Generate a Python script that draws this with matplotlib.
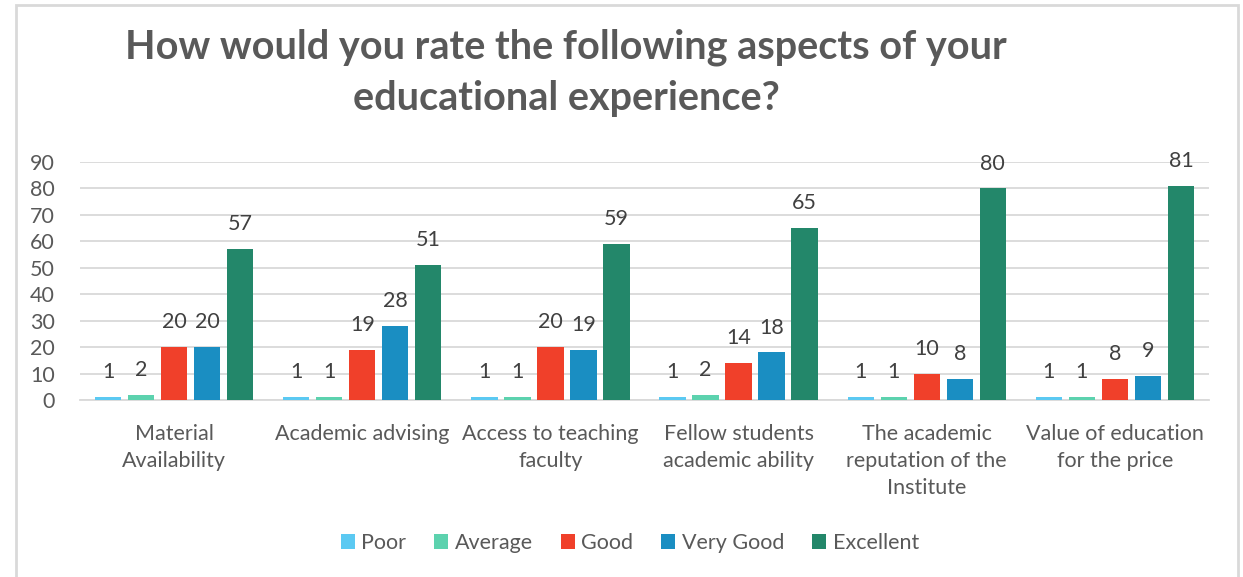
import matplotlib
matplotlib.use("Agg")
import matplotlib.pyplot as plt
import numpy as np
from matplotlib.patches import Rectangle

categories = ["Material\nAvailability", "Academic advising", "Access to teaching\nfaculty",
              "Fellow students\nacademic ability", "The academic\nreputation of the\nInstitute",
              "Value of education\nfor the price"]
series_names = ["Poor", "Average", "Good", "Very Good", "Excellent"]
poor = [1, 1, 1, 1, 1, 1]
average = [2, 1, 1, 2, 1, 1]
good = [20, 19, 20, 14, 10, 8]
very_good = [20, 28, 19, 18, 8, 9]
excellent = [57, 51, 59, 65, 80, 81]
colors = ["#5BC9F2", "#5CD2AE", "#F0402A", "#1A8EC2", "#23876A"]

plt.rcParams['font.family'] = ['Lato', 'DejaVu Sans']
W, H = 1243, 577
fig = plt.figure(figsize=(W/100, H/100), dpi=100)
ax = fig.add_axes([80/W, 1-400/H, (1209-80)/W, (400-162)/H])

data = [poor, average, good, very_good, excellent]
x = np.arange(len(categories))
step = 0.1755
width = 0.14
for i, (vals, name, c) in enumerate(zip(data, series_names, colors)):
    pos = x + (i-2)*step
    bars = ax.bar(pos, vals, width, color=c, label=name, zorder=3)
    for b, v in zip(bars, vals):
        ax.text(b.get_x()+b.get_width()/2, v + 9.4, str(v), ha='center', va='center',
                fontsize=15.5, color='#404040', zorder=4)

ax.set_xlim(-0.5, len(categories)-0.5)
ax.set_ylim(0, 90)
ax.set_yticks(range(0, 91, 10))
ax.yaxis.grid(True, color='#D9D9D9', linewidth=1.3, zorder=0)
ax.set_axisbelow(True)
for s in ['top', 'right', 'left']:
    ax.spines[s].set_visible(False)
ax.spines['bottom'].set_color('#D9D9D9')
ax.spines['bottom'].set_linewidth(1.3)
ax.tick_params(axis='both', length=0, labelsize=15.5, labelcolor='#595959')
ax.tick_params(axis='y', pad=18)
ax.set_xticks(x)
ax.set_xticklabels(categories, linespacing=1.45)
ax.tick_params(axis='x', pad=17)

fig.text(566/W, 1-73/H, "How would you rate the following aspects of your\neducational experience?",
         ha='center', va='center', fontsize=28.5, fontweight='bold', color='#595959',
         linespacing=1.45)

fig.legend(loc='center', bbox_to_anchor=(630/W, 1-543/H), ncol=5, frameon=False,
           fontsize=15.5, handlelength=0.65, handleheight=0.65, handletextpad=0.3,
           columnspacing=1.3, labelcolor='#595959')

fig.patches.append(Rectangle((16/W, -0.05), (1238-16)/W, 1.05-5/H, transform=fig.transFigure,
                             fill=False, edgecolor='#D9D9D9', linewidth=2))
fig.savefig("out.png", dpi=100)
